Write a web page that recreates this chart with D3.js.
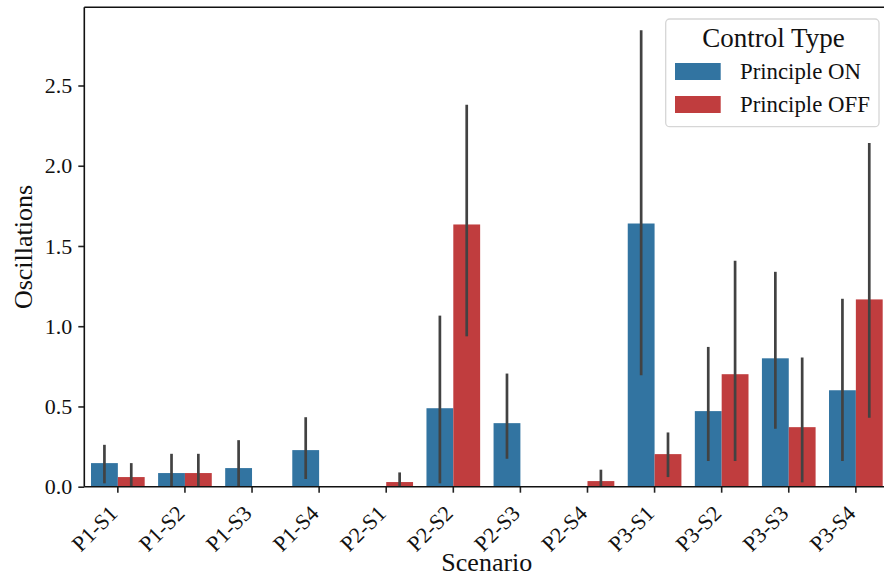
<!DOCTYPE html>
<html>
<head>
<meta charset="utf-8">
<script src="https://cdn.jsdelivr.net/npm/d3@7"></script>
<style>
  html, body { margin: 0; padding: 0; background: #fff; }
  svg { display: block; font-family: "Liberation Serif", "Times New Roman", serif; }
</style>
</head>
<body>
<svg id="chart" width="884" height="580"></svg>
<script>
const categories = ["P1-S1","P1-S2","P1-S3","P1-S4","P2-S1","P2-S2","P2-S3","P2-S4","P3-S1","P3-S2","P3-S3","P3-S4"];
const hues = ["Principle ON", "Principle OFF"];
const onMean  = [0.147, 0.085, 0.116, 0.228, 0.000, 0.489, 0.396, 0.000, 1.640, 0.471, 0.800, 0.601];
const onLow   = [0.021, 0.000, 0.000, 0.048, 0.000, 0.021, 0.174, 0.000, 0.695, 0.160, 0.361, 0.160];
const onHigh  = [0.261, 0.205, 0.290, 0.433, 0.000, 1.066, 0.705, 0.000, 2.845, 0.871, 1.339, 1.171];
const offMean = [0.060, 0.085, 0.000, 0.000, 0.029, 1.634, 0.000, 0.035, 0.203, 0.701, 0.371, 1.167];
const offLow  = [0.000, 0.000, 0.000, 0.000, 0.000, 0.937, 0.000, 0.000, 0.060, 0.160, 0.027, 0.429];
const offHigh = [0.147, 0.205, 0.000, 0.000, 0.089, 2.380, 0.000, 0.106, 0.338, 1.408, 0.805, 2.142];
const yTicks = [0, 0.5, 1.0, 1.5, 2.0, 2.5];
const colors = ["#3274a1", "#c03d3e"];

const svg = d3.select("#chart");
const L = 84.3, R = 889.4, T = 7.3, B = 486.7;

const x = d3.scaleBand().domain(categories).range([L, R]).paddingInner(0).paddingOuter(0);
const hx = d3.scaleBand().domain(hues).range([0.1 * x.bandwidth(), 0.9 * x.bandwidth()]);
const y = d3.scaleLinear().domain([0, 2.845 * 1.05]).range([B, T]);

const rows = [];
categories.forEach((c, i) => {
  rows.push({cat: c, hue: hues[0], mean: onMean[i], lo: onLow[i], hi: onHigh[i], col: colors[0]});
  rows.push({cat: c, hue: hues[1], mean: offMean[i], lo: offLow[i], hi: offHigh[i], col: colors[1]});
});

// bars
svg.append("g").selectAll("rect").data(rows).join("rect")
  .attr("x", d => x(d.cat) + hx(d.hue))
  .attr("width", hx.bandwidth())
  .attr("y", d => y(d.mean))
  .attr("height", d => Math.max(0, y(0) - y(d.mean)))
  .attr("fill", d => d.col);

// error bars
svg.append("g").selectAll("line").data(rows.filter(d => d.hi > d.lo)).join("line")
  .attr("x1", d => x(d.cat) + hx(d.hue) + hx.bandwidth() / 2)
  .attr("x2", d => x(d.cat) + hx(d.hue) + hx.bandwidth() / 2)
  .attr("y1", d => y(d.lo))
  .attr("y2", d => y(d.hi))
  .attr("stroke", "#424242")
  .attr("stroke-width", 2.7);

// y axis
const yAxis = svg.append("g").attr("transform", `translate(${L},0)`)
  .call(d3.axisLeft(y).tickValues(yTicks).tickFormat(d3.format(".1f")).tickSizeOuter(0).tickSize(6).tickPadding(6));
yAxis.select(".domain").remove();
yAxis.selectAll(".tick line").attr("stroke", "#222").attr("stroke-width", 1.6);
yAxis.selectAll(".tick text").attr("font-size", 22).attr("fill", "#111").attr("font-family", "Liberation Serif");

// x axis
const xAxis = svg.append("g").attr("transform", `translate(0,${B})`)
  .call(d3.axisBottom(x).tickSizeOuter(0).tickSize(6).tickPadding(4));
xAxis.select(".domain").remove();
xAxis.selectAll(".tick line").attr("stroke", "#222").attr("stroke-width", 1.6);
xAxis.selectAll(".tick text")
  .attr("font-size", 22).attr("fill", "#111").attr("font-family", "Liberation Serif")
  .attr("text-anchor", "end")
  .attr("x", 0).attr("y", 0)
  .attr("dy", null)
  .attr("transform", "translate(1,28) rotate(-45)");

// spines
const spines = svg.append("g").attr("stroke", "#111").attr("stroke-width", 1.6).attr("fill", "none");
spines.append("line").attr("x1", L).attr("x2", L).attr("y1", T).attr("y2", B);
spines.append("line").attr("x1", L).attr("x2", R).attr("y1", B).attr("y2", B);
spines.append("line").attr("x1", L).attr("x2", R).attr("y1", T).attr("y2", T);
spines.append("line").attr("x1", R).attr("x2", R).attr("y1", T).attr("y2", B);

// axis titles
svg.append("text").attr("x", (L + R) / 2).attr("y", 571).attr("text-anchor", "middle")
  .attr("font-size", 26).attr("fill", "#111").text("Scenario");
svg.append("text").attr("transform", `translate(32,${(T + B) / 2}) rotate(-90)`).attr("text-anchor", "middle")
  .attr("font-size", 26).attr("fill", "#111").text("Oscillations");

// legend
const lg = svg.append("g");
lg.append("rect").attr("x", 665.7).attr("y", 19).attr("width", 213.3).attr("height", 107.7)
  .attr("rx", 4).attr("fill", "#fff").attr("fill-opacity", 0.8).attr("stroke", "#d6d6d6").attr("stroke-width", 1.3);
lg.append("text").attr("x", 773.5).attr("y", 47).attr("text-anchor", "middle")
  .attr("font-size", 27).attr("fill", "#111").text("Control Type");
hues.forEach((h, i) => {
  lg.append("rect").attr("x", 675).attr("y", 63 + i * 33).attr("width", 45.7).attr("height", 17).attr("fill", colors[i]);
  lg.append("text").attr("x", 740).attr("y", 79 + i * 33).attr("font-size", 22.8).attr("fill", "#111").text(h);
});
</script>
</body>
</html>
